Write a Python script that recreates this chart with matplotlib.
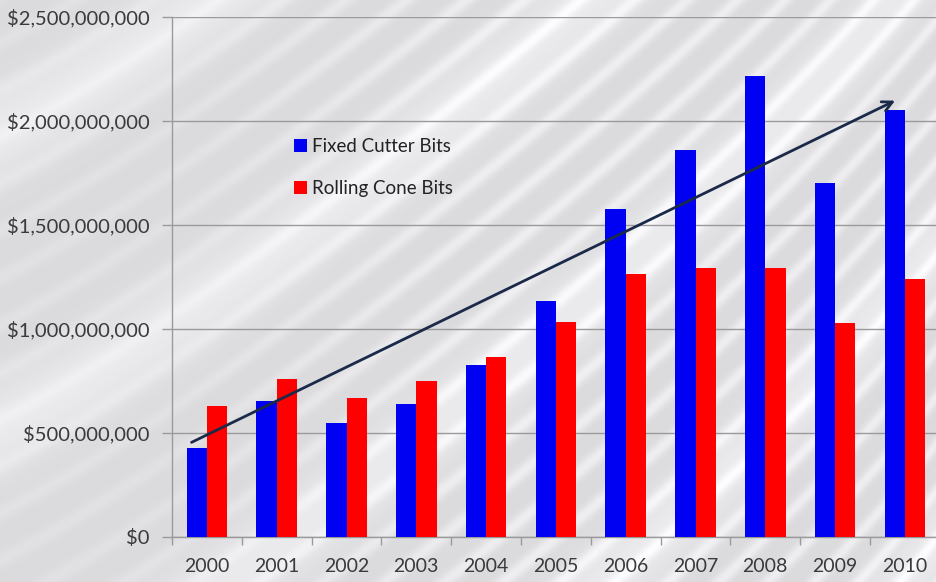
import numpy as np
import matplotlib.pyplot as plt
from matplotlib.ticker import FuncFormatter, FixedLocator

# Bit sales by year (USD)
years = ['2000', '2001', '2002', '2003', '2004', '2005',
         '2006', '2007', '2008', '2009', '2010']
fixed_cutter = [429e6, 654e6, 547e6, 638e6, 827e6, 1135e6,
                1577e6, 1860e6, 2218e6, 1700e6, 2053e6]
rolling_cone = [631e6, 760e6, 667e6, 750e6, 865e6, 1034e6,
                1264e6, 1293e6, 1293e6, 1027e6, 1239e6]

# trend arrow (start/end in category index, value)
trend_start = (-0.22, 455e6)
trend_end = (9.86, 2098e6)

plt.rcParams['font.family'] = ['Lato', 'DejaVu Sans']

W, H = 936, 582
fig = plt.figure(figsize=(W / 100, H / 100), dpi=100)

# silver swoosh backdrop
yy, xx = np.mgrid[0:H, 0:W].astype(float)
a = np.deg2rad(55)
u = xx * np.sin(a) + yy * np.cos(a) + 35 * np.sin(xx / 260.0) + 0.00035 * (W - xx) ** 2
fine = (0.5 + 0.5 * np.sin(2 * np.pi * u / 27.0)) ** 3
broad = (0.5 + 0.5 * np.sin(2 * np.pi * u / 170.0)) ** 4
mask = np.clip(xx / 500.0, 0.35, 1.0)
lum = 0.86 + 0.075 * fine * mask + 0.06 * broad
lum = np.clip(lum, 0, 1)
rgb = np.dstack([lum, lum, np.clip(lum + 0.012, 0, 1)])
bg = fig.add_axes([0, 0, 1, 1], zorder=-10)
bg.imshow(rgb, aspect='auto', interpolation='bilinear')
bg.axis('off')

x0, x1 = 172, 936
y0, y1 = 537, 17
ax = fig.add_axes([x0 / W, (H - y0) / H, (x1 - x0) / W, (y0 - y1) / H])
ax.patch.set_alpha(0)

x = np.arange(len(years))
w = 0.29
grid_c = '#9a9a9a'
ax.bar(x - w / 2, fixed_cutter, w, color='#0000f2', label='Fixed Cutter Bits', zorder=3)
ax.bar(x + w / 2, rolling_cone, w, color='#ff0000', label='Rolling Cone Bits', zorder=3)

ax.set_xlim(-0.5, (x1 - 206.9) / 69.8)
ax.set_ylim(0, 2.5e9)
ax.set_yticks(np.arange(0, 2.51e9, 5e8))
ax.yaxis.set_major_formatter(FuncFormatter(lambda v, p: '${:,.0f}'.format(v)))
ax.grid(axis='y', color=grid_c, lw=1, zorder=1)

ax.set_xticks(x)
ax.set_xticklabels(years)
ax.xaxis.set_minor_locator(FixedLocator(np.arange(-0.5, 11, 1)))
ax.tick_params(axis='x', which='major', length=0, pad=15, labelsize=14, colors='#3a3a3a')
ax.tick_params(axis='x', which='minor', length=6, color=grid_c, width=1)
ax.tick_params(axis='y', length=7, color=grid_c, width=1, pad=9, labelsize=14.5, colors='#3a3a3a')
for s in ['top', 'right']:
    ax.spines[s].set_visible(False)
for s in ['left', 'bottom']:
    ax.spines[s].set_color(grid_c)
    ax.spines[s].set_linewidth(1)

ax.annotate('', xy=trend_end, xytext=trend_start,
            arrowprops=dict(arrowstyle='->', color='#1a2a48', lw=2,
                            mutation_scale=18, shrinkA=0, shrinkB=0),
            zorder=5)

leg = ax.legend(loc='upper left', bbox_to_anchor=(0.137, 0.80), frameon=False,
                fontsize=13.5, handlelength=0.7, handleheight=0.7,
                handletextpad=0.3, labelspacing=1.35)
for t in leg.get_texts():
    t.set_color('#222222')

fig.savefig('out.png', dpi=100)
